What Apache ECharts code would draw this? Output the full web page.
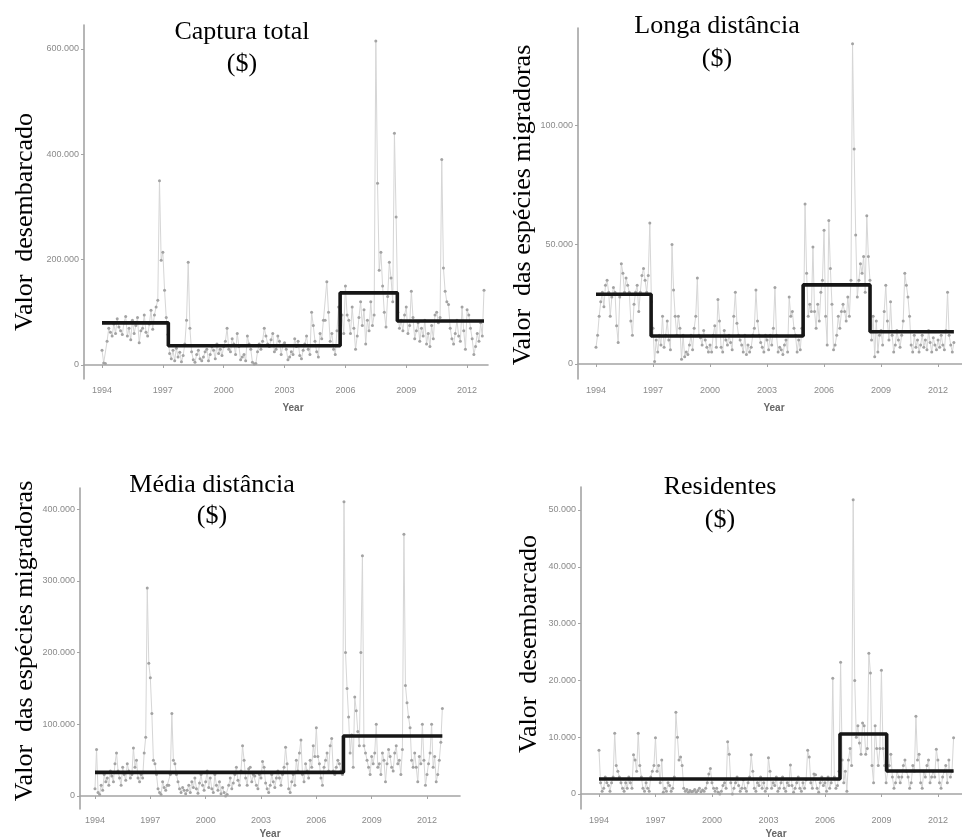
<!DOCTYPE html>
<html><head><meta charset="utf-8">
<script src="https://cdn.jsdelivr.net/npm/echarts@6/dist/echarts.min.js"></script>
<style>html,body{margin:0;padding:0;background:#fff}#c{width:962px;height:837px}</style>
</head><body><div id="c"></div>
<script>
// Monthly values (thousands of $), Jan 1994 .. Nov 2012
const startYear = 1994;
const xTicks = [1994, 1997, 2000, 2003, 2006, 2009, 2012];

const capturaTotal = [
  28, 4, 3, 45, 70, 62, 55, 78, 60, 88, 72, 65,
  58, 80, 92, 55, 70, 48, 85, 60, 75, 90, 42, 65,
  70, 95, 62, 55, 78, 104, 68, 95, 110, 123, 350, 199,
  214, 142, 90, 58, 22, 12, 28, 8, 32, 15, 24, 6,
  18, 40, 85, 195, 70, 25, 10, 5, 20, 28, 12, 8,
  15, 25, 30, 8, 20, 35, 28, 12, 40, 22, 30, 18,
  35, 45, 70, 30, 25, 50, 40, 20, 60, 35, 10, 15,
  20, 8, 55, 40, 30, 5, 2, 3, 25, 40, 30, 45,
  70, 55, 40, 35, 48, 60, 25, 30, 55, 45, 20, 38,
  42, 30, 10, 15, 25, 20, 50, 35, 45, 18, 12, 28,
  40, 55, 30, 20, 100, 75, 45, 25, 15, 60, 50, 85,
  85, 158, 100, 45, 60, 30, 20, 65, 110, 75, 95, 60,
  150, 95, 85, 60, 110, 70, 30, 55, 90, 120, 75, 105,
  40, 85, 65, 120, 75, 95, 615, 345, 180, 214, 150, 100,
  72, 130, 195, 165, 120, 440, 281, 100, 70, 85, 65, 95,
  110, 60, 75, 140, 90, 50, 65, 80, 45, 70, 55, 85,
  40, 60, 35, 75, 50, 95, 100, 80, 90, 390, 184, 140,
  120, 115, 70, 50, 40, 60, 85, 55, 45, 110, 65, 30,
  105, 95, 70, 50, 20, 35, 60, 45, 80, 55, 142
];
const longaDist = [
  7, 12, 20, 26, 30, 24, 33, 35, 30, 20, 28, 32,
  30, 16, 9, 28, 42, 38, 30, 36, 33, 30, 18, 12,
  25, 30, 33, 22, 30, 37, 40, 35, 30, 37, 59, 26,
  15, 1, 10, 5, 12, 8, 20, 7, 12, 18, 10, 6,
  50, 31, 20, 12, 20, 15, 2, 12, 3, 5, 4, 8,
  12, 6, 15, 20, 36, 12, 11, 8, 14, 10, 7, 5,
  8, 5, 12, 16, 7, 27, 18, 7, 5, 14, 10, 8,
  12, 9, 6, 20, 30, 17, 12, 10, 8, 5, 12, 4,
  8, 5, 7, 12, 15, 31, 18, 12, 9, 7, 5, 12,
  10, 6, 12, 8, 15, 32, 12, 5, 7, 6, 4, 8,
  10, 5, 28, 20, 22, 15, 12, 5, 10, 6, 15, 12,
  67, 38, 20, 25, 22, 49, 22, 15, 25, 18, 30, 35,
  56, 20, 8, 60, 40, 25, 6, 8, 12, 20, 15, 22,
  25, 22, 18, 28, 20, 35, 134, 90, 54, 28, 35, 42,
  38, 45, 30, 62, 45, 35, 10, 20, 3, 18, 5, 12,
  14, 8, 22, 33, 18, 10, 26, 12, 5, 8, 14, 10,
  7, 12, 18, 38, 33, 28, 20, 8, 5, 12, 7, 10,
  5, 8, 12, 7, 10, 6, 14, 9, 5, 11, 8, 6,
  10, 7, 12, 8, 6, 14, 30, 12, 8, 5, 9
];
const mediaDist = [
  10, 65, 5, 2, 15, 8, 30, 20, 25, 15, 35, 28,
  20, 45, 60, 35, 25, 15, 40, 30, 22, 45, 35, 25,
  30, 67, 40, 50, 25, 20, 30, 25, 60, 82, 290, 185,
  165, 115, 50, 45, 30, 10, 5, 2, 20, 12, 8, 15,
  15, 30, 115, 50, 45, 30, 20, 10, 5, 12, 8, 3,
  8, 15, 5, 20, 12, 25, 10, 4, 18, 30, 15, 8,
  20, 35, 12, 25, 10, 5, 30, 15, 8, 20, 3, 12,
  5, 0, 2, 15, 25, 10, 18, 30, 40, 22, 15, 35,
  70, 50, 25, 15, 38, 40, 20, 30, 28, 15, 10, 30,
  25, 48, 40, 18, 10, 5, 15, 30, 20, 12, 25, 35,
  25, 15, 30, 40, 68, 45, 10, 5, 20, 30, 15, 50,
  35, 60, 78, 30, 20, 45, 35, 25, 50, 40, 70, 55,
  95, 55, 45, 25, 15, 40, 50, 60, 35, 70, 80, 35,
  30, 40, 50, 45, 35, 30, 410, 200, 150, 110, 60, 85,
  40, 138, 119, 90, 70, 200, 335, 70, 60, 50, 40, 30,
  55, 45, 60, 100, 40, 45, 30, 60, 50, 20, 45, 65,
  55, 40, 35, 60, 70, 45, 50, 30, 65, 365, 154, 130,
  110, 95, 50, 40, 60, 40, 20, 55, 45, 100, 50, 15,
  30, 45, 60, 100, 40, 55, 20, 30, 50, 75, 122
];
const residentes = [
  7.7, 2, 0.5, 1, 3, 2, 1.5, 0.5, 2, 3, 10.7, 5,
  4, 3, 2, 1, 0.5, 2, 1, 3, 2, 1, 6.9, 6,
  4, 10.7, 5, 3, 1, 0.5, 2, 1, 0.5, 3, 4, 5,
  9.9, 4, 5, 2, 6, 0.3, 1, 0.5, 2, 1.5, 0.5, 1,
  3, 14.4, 10, 6, 6.5, 5, 1, 0.5, 0.8, 0.3, 0.6, 0.4,
  0.5, 0.8, 0.3, 0.6, 1, 0.4, 0.7, 0.5, 1, 2, 3.5, 4.5,
  2, 1, 0.5, 1, 0.3, 0, 0.5, 1.5, 2, 1, 9.2, 7,
  2, 0, 1, 2, 3, 1.5, 0.5, 1, 2.5, 1, 0.5, 2,
  3, 6.9, 4, 1, 0.5, 2, 1.5, 3, 1, 2, 0.5, 1,
  6.4, 4, 1, 2, 1.5, 3, 0.5, 1, 2, 3, 1, 0.5,
  2, 1.5, 5.1, 1.5, 0.3, 1, 2, 3, 1, 0.5, 2, 1,
  2.5, 7.7, 6.5, 2, 1, 3.5, 3.4, 1, 0.3, 2, 3, 1.5,
  2, 0.5, 3, 1, 2, 20.4, 3, 1, 1.5, 4, 23.2, 6,
  2, 4, 0.5, 6, 8, 5, 51.8, 20, 10, 12, 9, 7,
  12.5, 12, 7, 8, 24.8, 21.3, 5, 2, 12, 8, 5, 8,
  21.8, 8, 5, 2, 4, 5, 7, 3, 1, 2, 4, 3,
  2, 3, 5, 6, 4, 3, 1, 2, 5, 4, 13.7, 6,
  7, 2, 1, 4, 3, 5, 6, 2, 3, 4, 3, 7.9,
  6, 2, 1, 3, 4, 5, 2, 6, 3, 4, 9.9
];

// Change-point segment means (breaks in decimal years, levels in thousands)
const capturaBreaks = [1994, 1997.27, 2005.74, 2008.56, 2012.833];
const capturaLevels = [80, 36.5, 137, 83.5];
const longaBreaks = [1994, 1996.9, 2004.9, 2008.42, 2012.833];
const longaLevels = [29.2, 11.7, 33.1, 13.5];
const mediaBreaks = [1994, 2007.47, 2012.833];
const mediaLevels = [33, 83.6];
const residBreaks = [1994, 2006.8, 2009.28, 2012.833];
const residLevels = [2.64, 10.56, 4.05];

const capturaTicks = [0, 200, 400, 600];
const longaTicks = [0, 50, 100];
const mediaTicks = [0, 100, 200, 300, 400];
const residTicks = [0, 10, 20, 30, 40, 50];

function toPairs(vals) { return vals.map((v, i) => [startYear + i / 12, v]); }
function stepPairs(br, lv) {
  const out = [];
  for (let i = 0; i < lv.length; i++) { out.push([br[i], lv[i]]); out.push([br[i + 1], lv[i]]); }
  return out;
}
const fmtK = v => v === 0 ? '0' : v + '.000';

const panels = [
  { vals: capturaTotal, br: capturaBreaks, lv: capturaLevels, yt: capturaTicks,
    grid: { left: 84, top: 25, width: 404, height: 354 }, x: [1993.112, 2013.03], y: [-26.6, 645.6] },
  { vals: longaDist, br: longaBreaks, lv: longaLevels, yt: longaTicks,
    grid: { left: 578, top: 28, width: 384, height: 351 }, x: [1993.053, 2013.26], y: [-6.28, 140.6] },
  { vals: mediaDist, br: mediaBreaks, lv: mediaLevels, yt: mediaTicks,
    grid: { left: 80, top: 488, width: 380, height: 321 }, x: [1993.187, 2013.79], y: [-18.1, 429.3] },
  { vals: residentes, br: residBreaks, lv: residLevels, yt: residTicks,
    grid: { left: 581, top: 487, width: 381, height: 322 }, x: [1993.044, 2013.28], y: [-2.64, 54.05] }
];

const axisCol = '#a4a4a4';
const labCol = '#8a8a8a';
const grids = [], xAxes = [], yAxes = [], series = [];
panels.forEach((p, i) => {
  grids.push(Object.assign({ containLabel: false }, p.grid));
  xAxes.push({
    type: 'value', gridIndex: i, min: p.x[0], max: p.x[1],
    axisLine: { show: true, lineStyle: { color: axisCol, width: 1.6 } },
    axisTick: { show: true, length: 3, lineStyle: { color: axisCol }, customValues: xTicks },
    axisLabel: { color: labCol, fontSize: 9, fontFamily: 'Liberation Sans', margin: 7, customValues: xTicks, formatter: v => String(v) },
    splitLine: { show: false }
  });
  yAxes.push({
    type: 'value', gridIndex: i, min: p.y[0], max: p.y[1],
    axisLine: { show: true, lineStyle: { color: axisCol, width: 1.6 } },
    axisTick: { show: true, length: 3, lineStyle: { color: axisCol }, customValues: p.yt },
    axisLabel: { color: labCol, fontSize: 9, fontFamily: 'Liberation Sans', margin: 5, customValues: p.yt, formatter: fmtK },
    splitLine: { show: false }
  });
  series.push({
    type: 'line', xAxisIndex: i, yAxisIndex: i, data: toPairs(p.vals),
    symbol: 'circle', symbolSize: 3, showSymbol: true,
    lineStyle: { color: '#d6d6d6', width: 1 },
    itemStyle: { color: '#a3a3a3' }, animation: false, silent: true
  });
  series.push({
    type: 'line', xAxisIndex: i, yAxisIndex: i, data: stepPairs(p.br, p.lv),
    showSymbol: false, lineStyle: { color: '#161616', width: 3.6 }, animation: false, silent: true, z: 5
  });
});

function txt(t, x, y, size, rot) {
  return { type: 'text', x: x, y: y, rotation: rot || 0, z: 10,
    style: { text: t, font: size + 'px "Liberation Serif", "Times New Roman", serif', fill: '#000',
      align: 'center', verticalAlign: 'middle', textAlign: 'center', textVerticalAlign: 'middle' } };
}
function yearTxt(x, y) {
  return { type: 'text', x: x, y: y, z: 10,
    style: { text: 'Year', font: 'bold 10px "Liberation Sans", Arial, sans-serif', fill: '#666',
      align: 'center', verticalAlign: 'middle', textAlign: 'center', textVerticalAlign: 'middle' } };
}
const R = Math.PI / 2;
const graphic = [
  txt('Captura total', 242, 32, 26), txt('($)', 242, 64, 26),
  txt('Longa distância', 717, 26, 26), txt('($)', 717, 59, 26),
  txt('Média distância', 212, 485, 26), txt('($)', 212, 516, 26),
  txt('Residentes', 720, 487, 26), txt('($)', 720, 520, 26),
  txt('Valor  desembarcado', 25, 222, 26, R),
  txt('Valor  das espécies migradoras', 523, 205, 26, R),
  txt('Valor  das espécies migradoras', 25, 641, 26, R),
  txt('Valor  desembarcado', 529, 644, 26, R),
  yearTxt(293, 408), yearTxt(774, 408), yearTxt(270, 834), yearTxt(776, 834)
];

const chart = echarts.init(document.getElementById('c'), null, { renderer: 'canvas' });
chart.setOption({
  backgroundColor: '#fff', animation: false,
  grid: grids, xAxis: xAxes, yAxis: yAxes, series: series, graphic: graphic
});
</script></body></html>
